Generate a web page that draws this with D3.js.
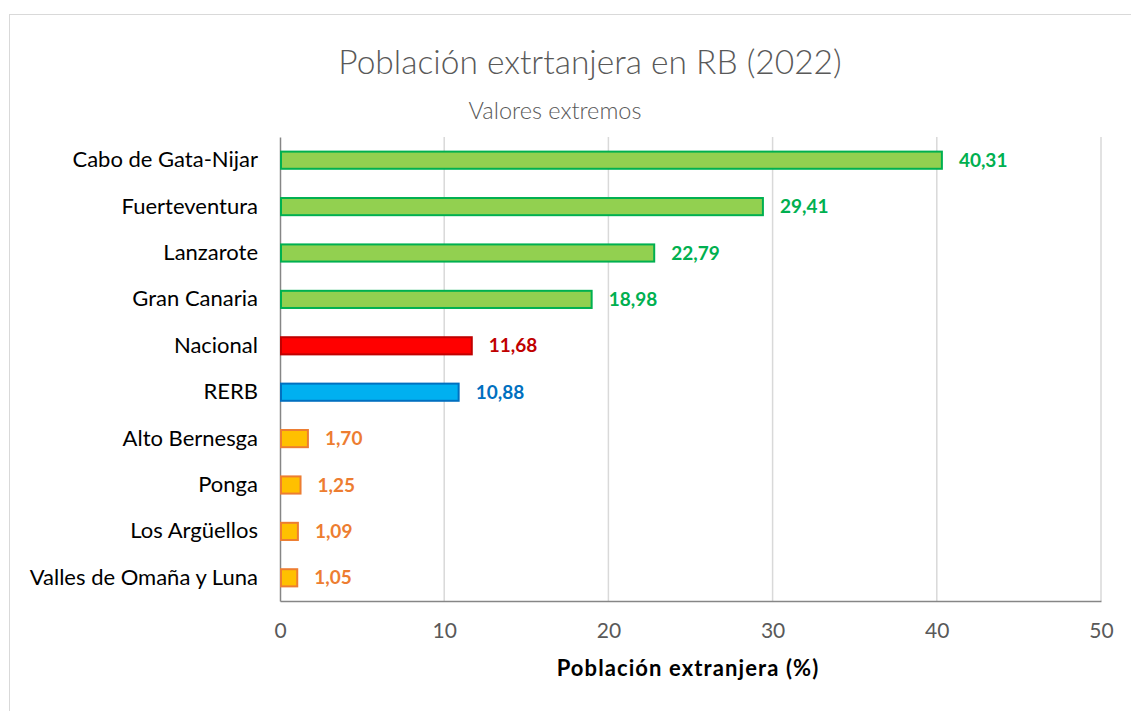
<!DOCTYPE html>
<html>
<head>
<meta charset="utf-8">
<script src="https://cdnjs.cloudflare.com/ajax/libs/d3/7.8.5/d3.min.js"></script>
<style>
  body { margin: 0; background: #fff; }
  text { font-family: Lato, "Noto Sans", sans-serif; }
</style>
</head>
<body>
<script>
// data
var categories = ["Cabo de Gata-Nijar", "Fuerteventura", "Lanzarote", "Gran Canaria",
                  "Nacional", "RERB", "Alto Bernesga", "Ponga", "Los Argüellos",
                  "Valles de Omaña y Luna"];
var values = [40.31, 29.41, 22.79, 18.98, 11.68, 10.88, 1.70, 1.25, 1.09, 1.05];
var groups = ["alto", "alto", "alto", "alto", "nacional", "rerb", "bajo", "bajo", "bajo", "bajo"];
var xTicks = [0, 10, 20, 30, 40, 50];

var palette = {
  alto:     { fill: "#92D050", stroke: "#00B050", label: "#00B050" },
  nacional: { fill: "#FF0000", stroke: "#C00000", label: "#C00000" },
  rerb:     { fill: "#00B0F0", stroke: "#0070C0", label: "#0070C0" },
  bajo:     { fill: "#FFC000", stroke: "#ED7D31", label: "#ED7D31" }
};

var W = 1131, H = 711;
var plot = { left: 280, right: 1101, top: 137, bottom: 601 };

var svg = d3.select("body").append("svg")
    .attr("width", W)
    .attr("height", H);

// chart frame
svg.append("rect")
    .attr("x", 9.5).attr("y", 14.5)
    .attr("width", W + 20).attr("height", H + 20)
    .attr("fill", "none")
    .attr("stroke", "#D9D9D9");

var x = d3.scaleLinear()
    .domain([0, 50])
    .range([plot.left, plot.right]);

var y = d3.scaleBand()
    .domain(categories)
    .range([plot.top, plot.bottom])
    .paddingInner(0.63)
    .paddingOuter(0.315);

var data = categories.map(function (c, i) {
  return { name: c, value: values[i], group: groups[i] };
});

// gridlines
svg.append("g")
    .selectAll("line")
    .data(xTicks.slice(1))
    .enter().append("line")
    .attr("x1", d => x(d)).attr("x2", d => x(d))
    .attr("y1", plot.top).attr("y2", plot.bottom)
    .attr("stroke", "#D9D9D9")
    .attr("stroke-width", 1.5);

// x tick labels
var xAxis = d3.axisBottom(x).tickValues(xTicks).tickSize(0).tickPadding(22);
var gx = svg.append("g")
    .attr("transform", "translate(0," + plot.bottom + ")")
    .call(xAxis);
gx.select(".domain").attr("stroke", "#868686").attr("stroke-width", 1.5);
gx.selectAll("text")
    .attr("fill", "#595959")
    .style("font-size", "21px");

// category axis
var yAxis = d3.axisLeft(y).tickSize(0).tickPadding(22);
var gy = svg.append("g")
    .attr("transform", "translate(" + plot.left + ",0)")
    .call(yAxis);
gy.select(".domain").attr("stroke", "#868686").attr("stroke-width", 1.5);
gy.selectAll("text")
    .attr("fill", "#000")
    .style("font-size", "22px");

// bars
svg.selectAll(".bar")
    .data(data)
    .enter().append("rect")
    .attr("class", "bar")
    .attr("x", x(0) + 1)
    .attr("y", d => y(d.name))
    .attr("width", d => x(d.value) - x(0) - 1)
    .attr("height", y.bandwidth())
    .attr("fill", d => palette[d.group].fill)
    .attr("stroke", d => palette[d.group].stroke)
    .attr("stroke-width", 2);

// value labels
svg.selectAll(".val")
    .data(data)
    .enter().append("text")
    .attr("class", "val")
    .attr("x", d => x(d.value) + 17)
    .attr("y", d => y(d.name) + y.bandwidth() / 2)
    .attr("dy", "0.35em")
    .attr("fill", d => palette[d.group].label)
    .style("font-size", "19px")
    .style("font-weight", "bold")
    .text(d => d3.format(".2f")(d.value).replace(".", ","));

// titles
svg.append("text")
    .attr("x", 590).attr("y", 74)
    .attr("text-anchor", "middle")
    .attr("fill", "#595959")
    .style("font-size", "33.5px")
    .style("font-weight", 300)
    .text("Población extrtanjera en RB (2022)");

svg.append("text")
    .attr("x", 555).attr("y", 119)
    .attr("text-anchor", "middle")
    .attr("fill", "#595959")
    .style("font-size", "23.5px")
    .style("font-weight", 300)
    .text("Valores extremos");

svg.append("text")
    .attr("x", 688).attr("y", 676)
    .attr("text-anchor", "middle")
    .attr("fill", "#000")
    .style("font-size", "22px")
    .style("font-weight", "bold")
    .style("letter-spacing", "1.1px")
    .text("Población extranjera (%)");
</script>
</body>
</html>
